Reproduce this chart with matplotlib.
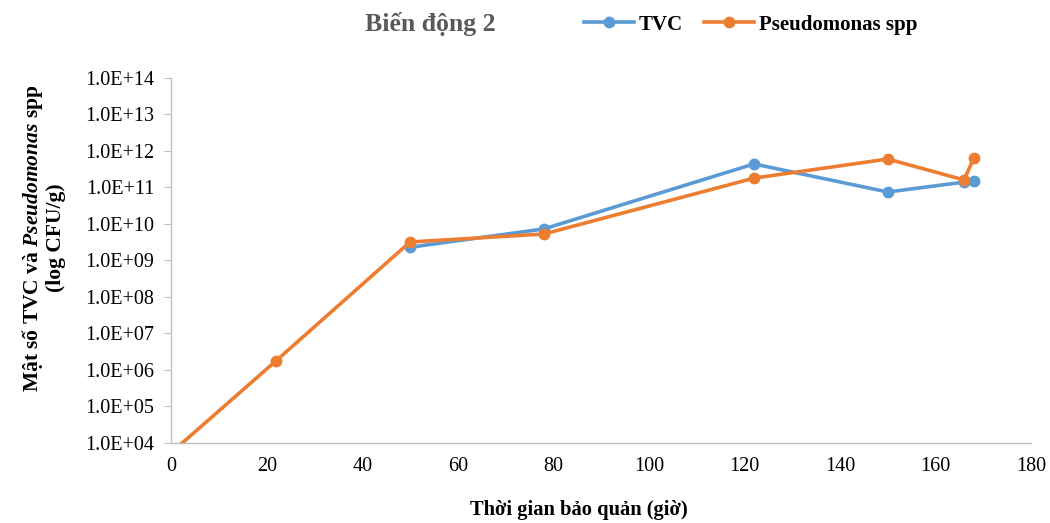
import matplotlib
matplotlib.use("Agg")
import matplotlib.pyplot as plt
from matplotlib.ticker import FuncFormatter, LogLocator, NullLocator

nan = float("nan")

# storage time (hours) and counts (CFU/g)
hours = [0, 22, 50, 78, 122, 150, 166, 168]
tvc = [nan, nan, 2.3e9, 7.3e9, 4.4e11, 7.5e10, 1.4e11, 1.5e11]
pseudomonas = [5.4e3, 1.8e6, 3.2e9, 5.3e9, 1.8e11, 6.0e11, 1.6e11, 6.5e11]

series_names = ["TVC", "Pseudomonas spp"]
title_text = "Biến động 2"
xlabel_text = "Thời gian bảo quản (giờ)"
ylabel_text = "Mật số TVC và $\\mathit{Pseudomonas}$ spp\n(log CFU/g)"

blue = "#5B9BD5"
orange = "#ED7D31"

plt.rcParams["font.family"] = ["Liberation Serif", "DejaVu Serif"]
plt.rcParams["mathtext.fontset"] = "custom"
plt.rcParams["mathtext.it"] = "Liberation Serif:italic:bold"
plt.rcParams["mathtext.rm"] = "Liberation Serif:bold"
plt.rcParams["mathtext.bf"] = "Liberation Serif:bold"

fig = plt.figure(figsize=(10.5, 5.23), dpi=100)
ax = fig.add_axes([0.163, 0.153, 0.819, 0.698])

ax.plot(hours, tvc, color=blue, lw=2.6, marker="o", ms=7.5, label=series_names[0],
        solid_joinstyle="round")
ax.plot(hours, pseudomonas, color=orange, lw=2.6, marker="o", ms=7.5, label=series_names[1],
        solid_joinstyle="round")

ax.set_yscale("log")
ax.set_ylim(1e4, 1e14)
ax.set_xlim(0, 180)
ax.set_xticks(range(0, 181, 20))
ax.yaxis.set_major_locator(LogLocator(base=10, numticks=20))
ax.yaxis.set_minor_locator(NullLocator())
ax.yaxis.set_major_formatter(FuncFormatter(lambda v, p: f"{v:.1E}"))

for side in ["top", "right"]:
    ax.spines[side].set_visible(False)
for side in ["left", "bottom"]:
    ax.spines[side].set_color("#BFBFBF")
    ax.spines[side].set_linewidth(1.0)

ax.tick_params(axis="y", length=5, color="#BFBFBF", labelsize=14.5, pad=7)
ax.tick_params(axis="x", length=0, labelsize=14.5, pad=10)

fig.text(0.551, 0.025, xlabel_text, fontsize=14.8, fontweight="bold",
         ha="center", va="center")
fig.text(0.041, 0.545, ylabel_text, fontsize=15.5, fontweight="bold", rotation=90,
         ha="center", va="center", multialignment="center", linespacing=1.05)

fig.text(0.41, 0.955, title_text, fontsize=18.5, fontweight="bold", color="#595959",
         ha="center", va="center")
fig.legend(loc="center", bbox_to_anchor=(0.715, 0.953), ncol=2, frameon=False,
           prop={"size": 15, "weight": "bold"}, handlelength=2.4, columnspacing=1.0,
           handletextpad=0.25)

fig.savefig("out.png", dpi=100)
